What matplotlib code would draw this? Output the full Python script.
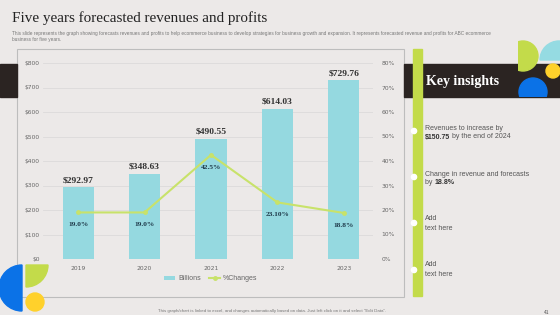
import matplotlib.pyplot as plt
from matplotlib import patches

# chart data
years = ['2019', '2020', '2021', '2022', '2023']
revenues = [292.97, 348.63, 490.55, 614.03, 729.76]
pct_changes = [19.0, 19.0, 42.5, 23.10, 18.8]
pct_labels = ['19.0%', '19.0%', '42.5%', '23.10%', '18.8%']

# slide colours
bg_col = '#ECE9E8'
dark = '#2B2422'
bar_col = '#95D9E0'
line_col = '#C8E26A'
green = '#C3DB4A'
blue = '#0B72E7'
yellow = '#FFD12B'
cyan = '#95DBE2'

W, H = 560, 315
fig = plt.figure(figsize=(W / 100, H / 100), dpi=100, facecolor=bg_col)

# background axes in pixel coords for all the slide furniture
bg = fig.add_axes([0, 0, 1, 1], zorder=0)
bg.set_xlim(0, W)
bg.set_ylim(H, 0)
bg.axis('off')
bg.set_facecolor(bg_col)

serif = 'Liberation Serif'
sans = 'Liberation Sans'

bg.text(12, 18, 'Five years forecasted revenues and profits', family=serif,
        fontsize=10.9, color='#222222', va='center', ha='left')
bg.text(12, 33, 'This slide represents the graph showing forecasts revenues and profits to help ecommerce '
        'business to develop strategies for business growth and expansion. It represents forecasted '
        'revenue and profits for ABC ecommerce', family=sans, fontsize=3.45, color='#777777',
        va='center', ha='left')
bg.text(12, 39, 'business for five years.', family=sans, fontsize=3.45, color='#777777',
        va='center', ha='left')

# chart frame and dark bands
bg.add_patch(patches.Rectangle((17, 49), 387, 248, fill=False, ec='#BDBDBD', lw=0.8))
bg.add_patch(patches.Rectangle((0, 64), 17, 33, color=dark))
bg.add_patch(patches.Rectangle((404, 64), W - 404, 33, color=dark))
bg.add_patch(patches.Rectangle((413, 49), 9, 247, color=green))
bg.text(426, 81, 'Key insights', family=serif, fontweight='bold', fontsize=10,
        color='white', va='center', ha='left')

# top right decor
seg = bg.add_patch(patches.Circle((523, 56), 15, color=green))
seg.set_clip_path(patches.Rectangle((518, 30), 40, 60, transform=bg.transData))
bg.add_patch(patches.Wedge((559, 60), 19, 180, 360, color=cyan))
seg2 = bg.add_patch(patches.Circle((533, 92), 14, color=blue))
seg2.set_clip_path(patches.Rectangle((500, 60), 60, 37, transform=bg.transData))
bg.add_patch(patches.Circle((553, 71), 7, color=yellow))

# bottom left decor
bg.add_patch(patches.Wedge((22, 288), 23, 90, 270, color=blue))
bg.add_patch(patches.Wedge((26, 265), 22, 0, 90, color=green))
bg.add_patch(patches.Circle((35, 302), 9, color=yellow))

# insights
txt_col = '#555555'
fs_ins = 5
dots_y = [131, 177, 223, 270]
for y in dots_y:
    bg.add_patch(patches.Circle((414, y), 2.6, color='white', zorder=3))

bg.text(425, 128, 'Revenues to increase by', family=sans, fontsize=fs_ins, color=txt_col, va='center')
t1 = bg.text(425, 137, '$150.75', family=sans, fontsize=fs_ins, color='#333333',
             fontweight='bold', va='center')
bg.annotate(' by the end of 2024', xy=(1, 0), xycoords=t1, va='bottom', family=sans,
            fontsize=fs_ins, color=txt_col)
bg.text(425, 174, 'Change in revenue and forecasts', family=sans, fontsize=fs_ins,
        color=txt_col, va='center')
t2 = bg.text(425, 183, 'by ', family=sans, fontsize=fs_ins, color=txt_col, va='center')
bg.annotate('18.8%', xy=(1, 0), xycoords=t2, va='bottom', family=sans, fontsize=fs_ins,
            color='#333333', fontweight='bold')
for y in [219, 265]:
    bg.text(425, y, 'Add', family=sans, fontsize=fs_ins, color=txt_col, va='center')
    bg.text(425, y + 9, 'text here', family=sans, fontsize=fs_ins, color=txt_col, va='center')

# footer
bg.text(272, 311, 'This graph/chart is linked to excel, and changes automatically based on data. '
        'Just left click on it and select "Edit Data".', family=sans, fontsize=3.2,
        color='#777777', ha='center', va='center')
bg.text(547, 312, '41', family=sans, fontsize=3.5, color='#555555', ha='center', va='center')

# chart
left, right, top, bottom = 43, 373, 63, 259
ax = fig.add_axes([left / W, 1 - bottom / H, (right - left) / W, (bottom - top) / H], zorder=1)
ax.set_facecolor('none')
x = list(range(len(years)))
bars = ax.bar(x, revenues, width=0.47, color=bar_col, label='Billions', zorder=2)
ax.set_ylim(0, 800)
ax.set_xlim(-0.53, 4.44)
ax.set_yticks(range(0, 801, 100))
ax.set_yticklabels(['$%d' % v for v in range(0, 801, 100)])
ax.set_xticks(x)
ax.set_xticklabels(years)
ax.grid(axis='y', color='#DCDADA', lw=0.6, zorder=0)
for s in ax.spines.values():
    s.set_visible(False)
ax.tick_params(length=0, labelsize=4.3, labelcolor='#666666')
ax.tick_params(axis='x', pad=5)
ax.tick_params(axis='y', pad=2.5)

for xi, v in zip(x, revenues):
    ax.annotate('$%.2f' % v, (xi, v), xytext=(0, 5), textcoords='offset points',
                ha='center', va='center', family=serif, fontweight='bold', fontsize=6.8,
                color='#333333')

ax2 = ax.twinx()
ax2.set_zorder(1)
ax2.plot(x, pct_changes, color=line_col, lw=1.5, marker='o', ms=2.5, label='%Changes', zorder=3)
ax2.set_ylim(0, 80)
ax2.set_yticks(range(0, 81, 10))
ax2.set_yticklabels(['%d%%' % v for v in range(0, 81, 10)])
for s in ax2.spines.values():
    s.set_visible(False)
ax2.tick_params(length=0, labelsize=4.3, labelcolor='#666666', pad=6)

for xi, v, lab in zip(x, pct_changes, pct_labels):
    ax2.annotate(lab, (xi, v), xytext=(0, -9), textcoords='offset points', ha='center',
                 va='center', family=serif, fontweight='bold', fontsize=5.3, color='#1F3A4A')

h1, l1 = ax.get_legend_handles_labels()
h2, l2 = ax2.get_legend_handles_labels()
fig.legend(h1 + h2, l1 + l2, loc='center', bbox_to_anchor=(211 / W, 1 - 279 / H), ncol=2,
           frameon=False, prop={'family': sans, 'size': 5}, labelcolor='#666666',
           handlelength=1.6, handleheight=0.5, columnspacing=1.2, handletextpad=0.4)

fig.savefig('out.png', dpi=100, facecolor=bg_col)
